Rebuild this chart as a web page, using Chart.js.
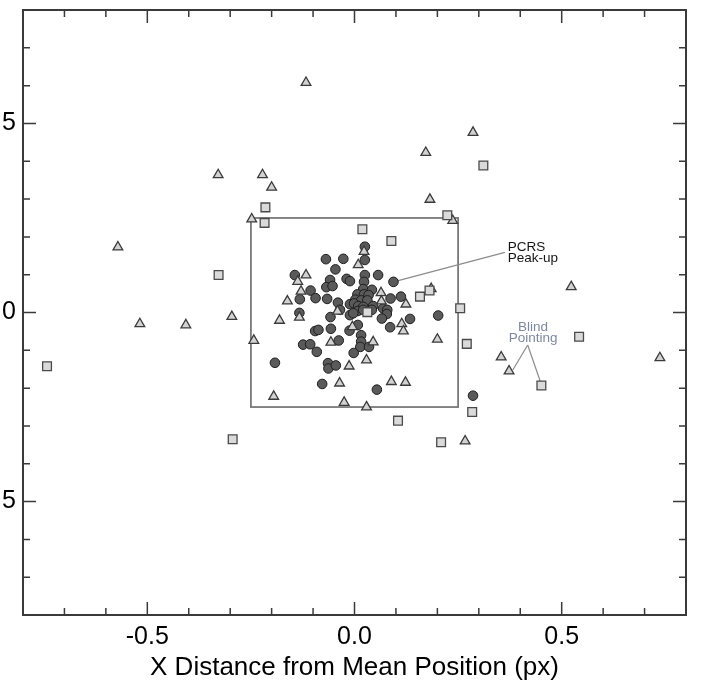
<!DOCTYPE html>
<html>
<head>
<meta charset="utf-8">
<script src="https://cdn.jsdelivr.net/npm/chart.js@4"></script>
<style>
  html, body { margin: 0; padding: 0; background: #fff; }
  #wrap { position: relative; width: 701px; height: 692px; overflow: hidden; }
  #c { position: absolute; left: -37px; top: 0; }
</style>
</head>
<body>
<div id="wrap"><canvas id="c" width="738" height="692"></canvas></div>
<script>
// PCRS peak-up pointings (filled circles)
const peakX = [0.025,0.025,-0.069,-0.027,-0.046,0.025,0.057,0.094,-0.144,-0.059,
  -0.019,-0.011,0.023,-0.068,-0.053,-0.106,0.021,0.042,0.007,0.023,
  0.034,-0.132,-0.094,-0.066,0.002,0.016,0.031,0.087,0.112,-0.040,
  -0.011,-0.001,0.009,0.021,0.045,0.069,0.079,-0.133,-0.035,-0.011,
  0.008,0.021,0.042,0.078,0.066,0.134,0.202,-0.058,-0.003,0.086,
  -0.095,-0.087,-0.057,-0.012,0.008,0.016,0.016,0.014,0.035,-0.038,
  -0.124,-0.107,-0.091,-0.002,-0.192,-0.064,-0.063,-0.045,-0.078,0.054,
  0.286];
const peakY = [0.174,0.139,0.141,0.142,0.114,0.099,0.099,0.081,0.099,0.086,
  0.089,0.083,0.081,0.067,0.070,0.058,0.062,0.060,0.048,0.048,
  0.046,0.035,0.038,0.036,0.034,0.032,0.032,0.037,0.042,0.026,
  0.022,0.024,0.017,0.015,0.017,0.011,0.007,-0.001,0.007,-0.007,
  0.004,0.007,0.007,-0.004,-0.016,-0.017,-0.008,-0.012,-0.002,-0.039,
  -0.049,-0.046,-0.043,-0.048,-0.033,-0.060,-0.077,-0.091,-0.091,-0.074,
  -0.085,-0.084,-0.104,-0.107,-0.133,-0.134,-0.148,-0.140,-0.189,-0.204,
  -0.220];

// Blind pointings, first set (open triangles)
const blindTriX = [-0.117,0.286,0.172,-0.329,-0.222,-0.200,0.182,-0.571,-0.248,0.237,
  0.023,0.009,-0.117,-0.137,-0.129,-0.162,-0.296,-0.181,-0.133,-0.041,
  0.064,0.065,0.124,0.185,-0.243,0.114,0.118,-0.005,-0.057,0.045,
  0.200,0.029,-0.013,-0.036,0.089,0.123,-0.195,-0.025,0.029,-0.518,
  -0.407,0.523,0.354,0.373,0.737,0.267];
const blindTriY = [0.608,0.476,0.423,0.364,0.364,0.331,0.299,0.173,0.247,0.243,
  0.161,0.126,0.099,0.082,0.056,0.030,-0.011,-0.021,-0.013,0.003,
  0.052,0.030,0.022,0.063,-0.074,-0.030,-0.049,-0.038,-0.079,-0.078,
  -0.071,-0.126,-0.142,-0.187,-0.183,-0.185,-0.222,-0.238,-0.250,-0.030,
  -0.033,0.068,-0.118,-0.155,-0.120,-0.340];

// Blind pointings, second set (open squares)
const blindSqX = [-0.742,-0.328,-0.215,-0.217,0.224,0.019,0.089,0.311,0.158,0.181,
  0.255,0.271,0.031,0.542,0.451,0.284,0.105,-0.294,0.209];
const blindSqY = [-0.142,0.099,0.278,0.237,0.257,0.220,0.189,0.389,0.042,0.058,
  0.011,-0.083,0.001,-0.064,-0.193,-0.263,-0.286,-0.335,-0.343];

// Axis range and labelled ticks (same on both axes)
const axisMin = -0.8, axisMax = 0.8, minorStep = 0.1;
const majorTicks = [-0.5, 0.0, 0.5];
const majorLabels = ['-0.5', '0.0', '0.5'];

// Half-width of the requirement box
const boxHalf = 0.25;

const tickFont = { family: "'Liberation Sans', Arial, Helvetica, sans-serif", size: 25 };
const notes = [
  { lines: ['PCRS', 'Peak-up'], at: [0.370, 0.163], align: 'left', color: '#151515' },
  { lines: ['Blind', 'Pointing'], at: [0.431, -0.050], align: 'center', color: '#7d889e' }
];
const leaders = [
  { from: [0.094, 0.081], to: [0.363, 0.159], color: '#8c8c8c' },
  { from: [0.418, -0.086], to: [0.382, -0.152], color: '#8c8c8c' },
  { from: [0.418, -0.086], to: [0.448, -0.181], color: '#8c8c8c' }
];

function pts(xs, ys) { return xs.map((v, i) => ({ x: v, y: ys[i] })); }
function majorLabel(v) {
  for (let i = 0; i < majorTicks.length; i++) {
    if (Math.abs(v - majorTicks[i]) < 1e-6) return majorLabels[i];
  }
  return null;
}

const framePlugin = {
  id: 'frame',
  beforeDatasetsDraw(chart) {
    const { ctx, scales: { x, y } } = chart;
    ctx.save();
    // requirement box
    const bx0 = x.getPixelForValue(-boxHalf), bx1 = x.getPixelForValue(boxHalf);
    const by0 = y.getPixelForValue(boxHalf), by1 = y.getPixelForValue(-boxHalf);
    ctx.strokeStyle = '#7a7a7a';
    ctx.lineWidth = 1.8;
    ctx.strokeRect(bx0, by0, bx1 - bx0, by1 - by0);
    // leader lines for the annotations
    ctx.lineWidth = 1.2;
    leaders.forEach(l => {
      ctx.strokeStyle = l.color;
      ctx.beginPath();
      ctx.moveTo(x.getPixelForValue(l.from[0]), y.getPixelForValue(l.from[1]));
      ctx.lineTo(x.getPixelForValue(l.to[0]), y.getPixelForValue(l.to[1]));
      ctx.stroke();
    });
    ctx.restore();
  },
  afterDatasetsDraw(chart) {
    const { ctx, chartArea: a, scales: { x, y } } = chart;
    ctx.save();
    // annotation text
    ctx.font = "13.5px 'Liberation Sans', Arial, sans-serif";
    ctx.textBaseline = 'alphabetic';
    notes.forEach(n => {
      ctx.fillStyle = n.color;
      ctx.textAlign = n.align;
      const px = x.getPixelForValue(n.at[0]);
      const py = y.getPixelForValue(n.at[1]);
      n.lines.forEach((t, i) => ctx.fillText(t, px, py + i * 11));
    });
    // inward tick marks on all four sides
    ctx.strokeStyle = '#3a3a3a';
    ctx.lineWidth = 1.5;
    const n = Math.round((axisMax - axisMin) / minorStep);
    for (let i = 1; i < n; i++) {
      const v = axisMin + i * minorStep;
      const len = majorLabel(v) !== null ? 13 : 7;
      const px = x.getPixelForValue(v);
      const py = y.getPixelForValue(v);
      ctx.beginPath();
      ctx.moveTo(px, a.bottom); ctx.lineTo(px, a.bottom - len);
      ctx.moveTo(px, a.top); ctx.lineTo(px, a.top + len);
      ctx.moveTo(a.left, py); ctx.lineTo(a.left + len, py);
      ctx.moveTo(a.right, py); ctx.lineTo(a.right - len, py);
      ctx.stroke();
    }
    // plot frame
    ctx.lineWidth = 2;
    ctx.strokeRect(a.left, a.top, a.right - a.left, a.bottom - a.top);
    ctx.restore();
  }
};

new Chart(document.getElementById('c'), {
  type: 'scatter',
  data: {
    datasets: [
      {
        label: 'Blind pointing (squares)',
        data: pts(blindSqX, blindSqY),
        pointStyle: 'rect', pointRadius: 6.2, pointHoverRadius: 6.2,
        backgroundColor: '#dadada', borderColor: '#4a4a4a', borderWidth: 1.3,
        order: 1
      },
      {
        label: 'Blind pointing (triangles)',
        data: pts(blindTriX, blindTriY),
        pointStyle: 'triangle', pointRadius: 5.6, pointHoverRadius: 5.6,
        backgroundColor: '#d2d2d2', borderColor: '#3a3a3a', borderWidth: 1.3,
        order: 2
      },
      {
        label: 'PCRS peak-up',
        data: pts(peakX, peakY),
        pointStyle: 'circle', pointRadius: 4.8, pointHoverRadius: 4.8,
        backgroundColor: '#5a5a5a', borderColor: '#1e1e1e', borderWidth: 1,
        order: 3
      }
    ]
  },
  options: {
    responsive: false,
    animation: false,
    devicePixelRatio: 1,
    layout: { padding: { top: 10, right: 15, left: 0, bottom: 0 } },
    plugins: { legend: { display: false }, tooltip: { enabled: false } },
    scales: {
      x: {
        type: 'linear', min: axisMin, max: axisMax,
        border: { display: false },
        grid: { display: false, drawTicks: false },
        ticks: {
          stepSize: minorStep, autoSkip: false, maxRotation: 0, minRotation: 0,
          padding: 7, font: tickFont, color: '#000',
          callback: v => majorLabel(v)
        },
        title: {
          display: true, text: 'X Distance from Mean Position (px)',
          font: { family: tickFont.family, size: 26 }, color: '#000',
          padding: { top: 0, bottom: 9 }
        },
        afterFit(s) { s.height = 77; s.paddingLeft = 0; s.paddingRight = 0; }
      },
      y: {
        type: 'linear', min: axisMin, max: axisMax,
        border: { display: false },
        grid: { display: false, drawTicks: false },
        ticks: {
          stepSize: minorStep, autoSkip: false,
          padding: 7, font: tickFont, color: '#000',
          callback: v => majorLabel(v)
        },
        afterFit(s) { s.width = 60; s.paddingTop = 0; s.paddingBottom = 0; }
      }
    }
  },
  plugins: [framePlugin]
});
</script>
</body>
</html>
